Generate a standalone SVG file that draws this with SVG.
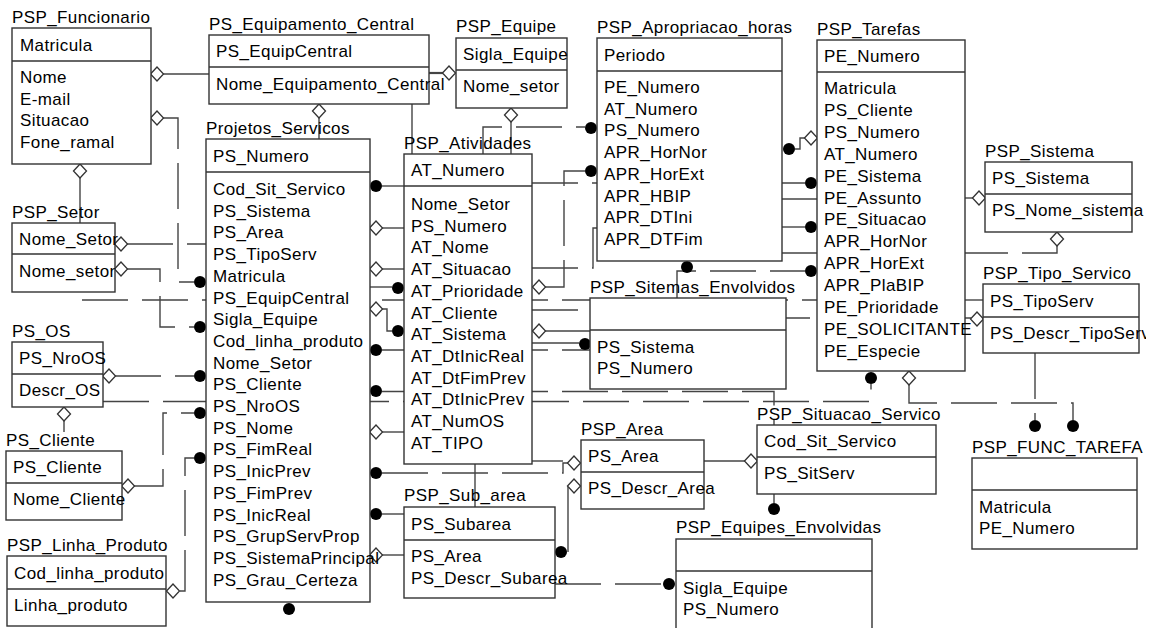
<svg xmlns="http://www.w3.org/2000/svg" width="1153" height="628" viewBox="0 0 1153 628">
<defs>
<style>
.bg{fill:#fff}
.box{fill:#fff;stroke:#333;stroke-width:1.4}
.dv{stroke:#333;stroke-width:1.4}
.t{font-family:"Liberation Sans",Arial,sans-serif;font-size:17px;letter-spacing:0.4px;fill:#000}
.ln{fill:none;stroke:#444;stroke-width:1.4}
.dash{stroke-dasharray:46 14}
.dm{fill:#fff;stroke:#333;stroke-width:1.3}
.dot{fill:#000}
</style>
<path id="dmd" class="dm" d="M-6.5,0 L0,-7 L6.5,0 L0,7 Z"/>
<clipPath id="clipTipo"><rect x="983" y="284" width="163" height="70"/></clipPath>
</defs>
<rect class="bg" x="0" y="0" width="1153" height="628"/>

<!-- relationship lines -->
<g id="connectors">
  <path class="ln" d="M163,74 H209"/>
  <path class="ln dash" d="M163,118 H178 V282 H194"/>
  <path class="ln" d="M80,178 V223"/>
  <path class="ln dash" d="M127,244 H206"/>
  <path class="ln dash" d="M127,269 H160 V327 H194"/>
  <path class="ln dash" d="M82,300 H817"/>
  <path class="ln dash" d="M115,376 H194"/>
  <path class="ln dash" d="M103,401.5 H871 V384"/>
  <path class="ln dash" d="M134,486 H163 V413 H194"/>
  <path class="ln dash" d="M180,591 H185 V458 H194"/>
  <path class="ln" d="M64,421 V432"/>
  <path class="ln" d="M429,73 H443" style="stroke-width:2.2"/>
  <path class="ln" d="M319,118 V139"/>
  <path class="ln" d="M412,104 V154"/>
  <path class="ln" d="M511,122 V154"/>
  <path class="ln dash" d="M483,154 V127 H585"/>
  <path class="ln" d="M382,186 H404"/>
  <path class="ln" d="M382,228 H404"/>
  <path class="ln" d="M382,269 H404"/>
  <path class="ln dash" d="M370,287 H392"/>
  <path class="ln" d="M382,309 H387 V331 H392"/>
  <path class="ln dash" d="M382,350 H590"/>
  <path class="ln dash" d="M382,391.5 H774 V425"/>
  <path class="ln" d="M382,432 H404"/>
  <path class="ln dash" d="M382,473 H563 V463 H568"/>
  <path class="ln" d="M532,461 H563"/>
  <path class="ln dash" d="M382,514 H404"/>
  <path class="ln" d="M382,555 H404"/>
  <path class="ln" d="M475,464 V507"/>
  <path class="ln dash" d="M532,183 H805"/>
  <path class="ln dash" d="M545,287 H564 V171 H585"/>
  <path class="ln dash" d="M532,268 H593 V228 H597"/>
  <path class="ln dash" d="M532,310 H700 V318 H971"/>
  <path class="ln" d="M545,331 H590"/>
  <path class="ln" d="M532,343 H579"/>
  <path class="ln dash" d="M677,298 V271 H805"/>
  <path class="ln" d="M795,149 H800 V138 H805"/>
  <path class="ln dash" d="M782,199 H817"/>
  <path class="ln" d="M782,227 H805"/>
  <path class="ln dash" d="M782,253 H1057 V246"/>
  <path class="ln" d="M965,198 H973"/>
  <path class="ln" d="M965,300 H983"/>
  <path class="ln dash" d="M909,385 V403 H1073 V420"/>
  <path class="ln dash" d="M1035,353 V420"/>
  <path class="ln" d="M704,461 H745"/>
  <path class="ln" d="M774,494 V503"/>
  <path class="ln" d="M568,486 V552"/>
  <path class="ln dash" d="M555,584 H663"/>

  <!-- aggregation diamonds -->
  <use href="#dmd" x="157" y="74"/>
  <use href="#dmd" x="157" y="118"/>
  <use href="#dmd" x="80" y="171"/>
  <use href="#dmd" x="121" y="244"/>
  <use href="#dmd" x="121" y="269"/>
  <use href="#dmd" x="109" y="376"/>
  <use href="#dmd" x="128" y="486"/>
  <use href="#dmd" x="173" y="591"/>
  <use href="#dmd" x="64" y="414"/>
  <use href="#dmd" x="449" y="73"/>
  <use href="#dmd" x="319" y="111"/>
  <use href="#dmd" x="511" y="115"/>
  <use href="#dmd" x="376" y="228"/>
  <use href="#dmd" x="376" y="269"/>
  <use href="#dmd" x="376" y="309"/>
  <use href="#dmd" x="376" y="432"/>
  <use href="#dmd" x="376" y="555"/>
  <use href="#dmd" x="574" y="463"/>
  <use href="#dmd" x="574" y="486"/>
  <use href="#dmd" x="539" y="287"/>
  <use href="#dmd" x="539" y="331"/>
  <use href="#dmd" x="811" y="138"/>
  <use href="#dmd" x="979" y="198"/>
  <use href="#dmd" x="1057" y="239"/>
  <use href="#dmd" x="977" y="319"/>
  <use href="#dmd" x="909" y="378"/>
  <use href="#dmd" x="751" y="461"/>

  <!-- filled ends -->
  <circle class="dot" cx="200" cy="282" r="6"/>
  <circle class="dot" cx="200" cy="327" r="6"/>
  <circle class="dot" cx="200" cy="376" r="6"/>
  <circle class="dot" cx="200" cy="413" r="6"/>
  <circle class="dot" cx="200" cy="458" r="6"/>
  <circle class="dot" cx="376" cy="186" r="6"/>
  <circle class="dot" cx="398" cy="288" r="6"/>
  <circle class="dot" cx="398" cy="331" r="6"/>
  <circle class="dot" cx="376" cy="350" r="6"/>
  <circle class="dot" cx="376" cy="391" r="6"/>
  <circle class="dot" cx="376" cy="473" r="6"/>
  <circle class="dot" cx="376" cy="514" r="6"/>
  <circle class="dot" cx="289" cy="609" r="6"/>
  <circle class="dot" cx="591" cy="128" r="6"/>
  <circle class="dot" cx="591" cy="171" r="6"/>
  <circle class="dot" cx="585" cy="344" r="6"/>
  <circle class="dot" cx="789" cy="149" r="6"/>
  <circle class="dot" cx="811" cy="183" r="6"/>
  <circle class="dot" cx="811" cy="227" r="6"/>
  <circle class="dot" cx="811" cy="271" r="6"/>
  <circle class="dot" cx="687" cy="267" r="6"/>
  <circle class="dot" cx="871" cy="378" r="6"/>
  <circle class="dot" cx="1035" cy="426" r="6"/>
  <circle class="dot" cx="1073" cy="426" r="6"/>
  <circle class="dot" cx="774" cy="509" r="6"/>
  <circle class="dot" cx="561" cy="552" r="6"/>
  <circle class="dot" cx="669" cy="584" r="6"/>
</g>

<!-- entities -->
<g id="PSP_Funcionario">
  <text class="t" x="12" y="23">PSP_Funcionario</text>
  <rect class="box" x="12" y="28" width="139" height="136"/>
  <line class="dv" x1="12" y1="61" x2="151" y2="61"/>
  <text class="t" x="20" y="51">Matricula</text>
  <text class="t" x="20" y="83">Nome</text>
  <text class="t" x="20" y="104.5">E-mail</text>
  <text class="t" x="20" y="126">Situacao</text>
  <text class="t" x="20" y="147.5">Fone_ramal</text>
</g>

<g id="PS_Equipamento_Central">
  <text class="t" x="209" y="30">PS_Equipamento_Central</text>
  <rect class="box" x="209" y="35" width="220" height="69"/>
  <line class="dv" x1="209" y1="67" x2="429" y2="67"/>
  <text class="t" x="216" y="57">PS_EquipCentral</text>
  <text class="t" x="216" y="89.5">Nome_Equipamento_Central</text>
</g>

<g id="PSP_Equipe">
  <text class="t" x="456" y="32">PSP_Equipe</text>
  <rect class="box" x="456" y="38" width="111" height="70"/>
  <line class="dv" x1="456" y1="70" x2="567" y2="70"/>
  <text class="t" x="463" y="60">Sigla_Equipe</text>
  <text class="t" x="463" y="92">Nome_setor</text>
</g>

<g id="PSP_Apropriacao_horas">
  <text class="t" x="597" y="33">PSP_Apropriacao_horas</text>
  <rect class="box" x="597" y="38" width="185" height="223"/>
  <line class="dv" x1="597" y1="71" x2="782" y2="71"/>
  <text class="t" x="604" y="61">Periodo</text>
  <text class="t" x="604" y="93">PE_Numero</text>
  <text class="t" x="604" y="114.7">AT_Numero</text>
  <text class="t" x="604" y="136.4">PS_Numero</text>
  <text class="t" x="604" y="158.1">APR_HorNor</text>
  <text class="t" x="604" y="179.8">APR_HorExt</text>
  <text class="t" x="604" y="201.5">APR_HBIP</text>
  <text class="t" x="604" y="223.2">APR_DTIni</text>
  <text class="t" x="604" y="244.9">APR_DTFim</text>
</g>

<g id="PSP_Tarefas">
  <text class="t" x="817" y="35">PSP_Tarefas</text>
  <rect class="box" x="817" y="40" width="148" height="331"/>
  <line class="dv" x1="817" y1="72" x2="965" y2="72"/>
  <text class="t" x="824" y="62">PE_Numero</text>
  <text class="t" x="824" y="94">Matricula</text>
  <text class="t" x="824" y="115.9">PS_Cliente</text>
  <text class="t" x="824" y="137.8">PS_Numero</text>
  <text class="t" x="824" y="159.7">AT_Numero</text>
  <text class="t" x="824" y="181.6">PE_Sistema</text>
  <text class="t" x="824" y="203.5">PE_Assunto</text>
  <text class="t" x="824" y="225.4">PE_Situacao</text>
  <text class="t" x="824" y="247.3">APR_HorNor</text>
  <text class="t" x="824" y="269.2">APR_HorExt</text>
  <text class="t" x="824" y="291.1">APR_PlaBIP</text>
  <text class="t" x="824" y="313">PE_Prioridade</text>
  <text class="t" x="824" y="334.9">PE_SOLICITANTE</text>
  <text class="t" x="824" y="356.8">PE_Especie</text>
</g>

<g id="Projetos_Servicos">
  <text class="t" x="206" y="134">Projetos_Servicos</text>
  <rect class="box" x="206" y="139" width="164" height="463"/>
  <line class="dv" x1="206" y1="172" x2="370" y2="172"/>
  <text class="t" x="213" y="162">PS_Numero</text>
  <text class="t" x="213" y="195">Cod_Sit_Servico</text>
  <text class="t" x="213" y="216.7">PS_Sistema</text>
  <text class="t" x="213" y="238.4">PS_Area</text>
  <text class="t" x="213" y="260.1">PS_TipoServ</text>
  <text class="t" x="213" y="281.8">Matricula</text>
  <text class="t" x="213" y="303.5">PS_EquipCentral</text>
  <text class="t" x="213" y="325.2">Sigla_Equipe</text>
  <text class="t" x="213" y="346.9">Cod_linha_produto</text>
  <text class="t" x="213" y="368.6">Nome_Setor</text>
  <text class="t" x="213" y="390.3">PS_Cliente</text>
  <text class="t" x="213" y="412">PS_NroOS</text>
  <text class="t" x="213" y="433.7">PS_Nome</text>
  <text class="t" x="213" y="455.4">PS_FimReal</text>
  <text class="t" x="213" y="477.1">PS_InicPrev</text>
  <text class="t" x="213" y="498.8">PS_FimPrev</text>
  <text class="t" x="213" y="520.5">PS_InicReal</text>
  <text class="t" x="213" y="542.2">PS_GrupServProp</text>
  <text class="t" x="213" y="563.9">PS_SistemaPrincipal</text>
  <text class="t" x="213" y="585.6">PS_Grau_Certeza</text>
</g>

<g id="PSP_Atividades">
  <text class="t" x="404" y="149">PSP_Atividades</text>
  <rect class="box" x="404" y="154" width="128" height="310"/>
  <line class="dv" x1="404" y1="186" x2="532" y2="186"/>
  <text class="t" x="411" y="176">AT_Numero</text>
  <text class="t" x="411" y="210">Nome_Setor</text>
  <text class="t" x="411" y="231.7">PS_Numero</text>
  <text class="t" x="411" y="253.4">AT_Nome</text>
  <text class="t" x="411" y="275.1">AT_Situacao</text>
  <text class="t" x="411" y="296.8">AT_Prioridade</text>
  <text class="t" x="411" y="318.5">AT_Cliente</text>
  <text class="t" x="411" y="340.2">AT_Sistema</text>
  <text class="t" x="411" y="361.9">AT_DtInicReal</text>
  <text class="t" x="411" y="383.6">AT_DtFimPrev</text>
  <text class="t" x="411" y="405.3">AT_DtInicPrev</text>
  <text class="t" x="411" y="427">AT_NumOS</text>
  <text class="t" x="411" y="448.7">AT_TIPO</text>
</g>

<g id="PSP_Sistema">
  <text class="t" x="985" y="157">PSP_Sistema</text>
  <rect class="box" x="985" y="162" width="147" height="70"/>
  <line class="dv" x1="985" y1="194" x2="1132" y2="194"/>
  <text class="t" x="992" y="184">PS_Sistema</text>
  <text class="t" x="992" y="216">PS_Nome_sistema</text>
</g>

<g id="PSP_Tipo_Servico">
  <text class="t" x="983" y="279">PSP_Tipo_Servico</text>
  <rect class="box" x="983" y="284" width="156" height="69"/>
  <line class="dv" x1="983" y1="317" x2="1139" y2="317"/>
  <text class="t" x="990" y="307">PS_TipoServ</text>
  <text class="t" x="990" y="339" clip-path="url(#clipTipo)">PS_Descr_TipoServ</text>
</g>

<g id="PSP_Setor">
  <text class="t" x="12" y="218">PSP_Setor</text>
  <rect class="box" x="12" y="223" width="103" height="69"/>
  <line class="dv" x1="12" y1="254" x2="115" y2="254"/>
  <text class="t" x="19" y="244.5">Nome_Setor</text>
  <text class="t" x="19" y="276.5">Nome_setor</text>
</g>

<g id="PS_OS">
  <text class="t" x="12" y="337">PS_OS</text>
  <rect class="box" x="12" y="342" width="91" height="65"/>
  <line class="dv" x1="12" y1="374" x2="103" y2="374"/>
  <text class="t" x="19" y="364">PS_NroOS</text>
  <text class="t" x="19" y="396">Descr_OS</text>
</g>

<g id="PS_Cliente">
  <text class="t" x="6" y="446">PS_Cliente</text>
  <rect class="box" x="6" y="451" width="116" height="69"/>
  <line class="dv" x1="6" y1="483" x2="122" y2="483"/>
  <text class="t" x="13" y="473">PS_Cliente</text>
  <text class="t" x="13" y="505">Nome_Cliente</text>
</g>

<g id="PSP_Linha_Produto">
  <text class="t" x="7" y="551">PSP_Linha_Produto</text>
  <rect class="box" x="7" y="556" width="159" height="70"/>
  <line class="dv" x1="7" y1="589" x2="166" y2="589"/>
  <text class="t" x="14" y="579">Cod_linha_produto</text>
  <text class="t" x="14" y="611">Linha_produto</text>
</g>

<g id="PSP_Sitemas_Envolvidos">
  <text class="t" x="590" y="293">PSP_Sitemas_Envolvidos</text>
  <rect class="box" x="590" y="298" width="196" height="91"/>
  <line class="dv" x1="590" y1="330" x2="786" y2="330"/>
  <text class="t" x="597" y="352.5">PS_Sistema</text>
  <text class="t" x="597" y="374.2">PS_Numero</text>
</g>

<g id="PSP_Situacao_Servico">
  <text class="t" x="757" y="420">PSP_Situacao_Servico</text>
  <rect class="box" x="757" y="425" width="179" height="69"/>
  <line class="dv" x1="757" y1="457" x2="936" y2="457"/>
  <text class="t" x="764" y="447">Cod_Sit_Servico</text>
  <text class="t" x="764" y="479">PS_SitServ</text>
</g>

<g id="PSP_Area">
  <text class="t" x="581" y="435">PSP_Area</text>
  <rect class="box" x="581" y="440" width="123" height="69"/>
  <line class="dv" x1="581" y1="472" x2="704" y2="472"/>
  <text class="t" x="588" y="462">PS_Area</text>
  <text class="t" x="588" y="494">PS_Descr_Area</text>
</g>

<g id="PSP_Sub_area">
  <text class="t" x="404" y="501">PSP_Sub_area</text>
  <rect class="box" x="404" y="507" width="151" height="91"/>
  <line class="dv" x1="404" y1="540" x2="555" y2="540"/>
  <text class="t" x="411" y="530">PS_Subarea</text>
  <text class="t" x="411" y="562">PS_Area</text>
  <text class="t" x="411" y="583.7">PS_Descr_Subarea</text>
</g>

<g id="PSP_Equipes_Envolvidas">
  <text class="t" x="676" y="533">PSP_Equipes_Envolvidas</text>
  <rect class="box" x="676" y="539" width="196" height="110"/>
  <line class="dv" x1="676" y1="571" x2="872" y2="571"/>
  <text class="t" x="683" y="593.5">Sigla_Equipe</text>
  <text class="t" x="683" y="615.2">PS_Numero</text>
</g>

<g id="PSP_FUNC_TAREFA">
  <text class="t" x="972" y="453">PSP_FUNC_TAREFA</text>
  <rect class="box" x="972" y="458" width="165" height="91"/>
  <line class="dv" x1="972" y1="490" x2="1137" y2="490"/>
  <text class="t" x="979" y="512.5">Matricula</text>
  <text class="t" x="979" y="534.2">PE_Numero</text>
</g>
</svg>
